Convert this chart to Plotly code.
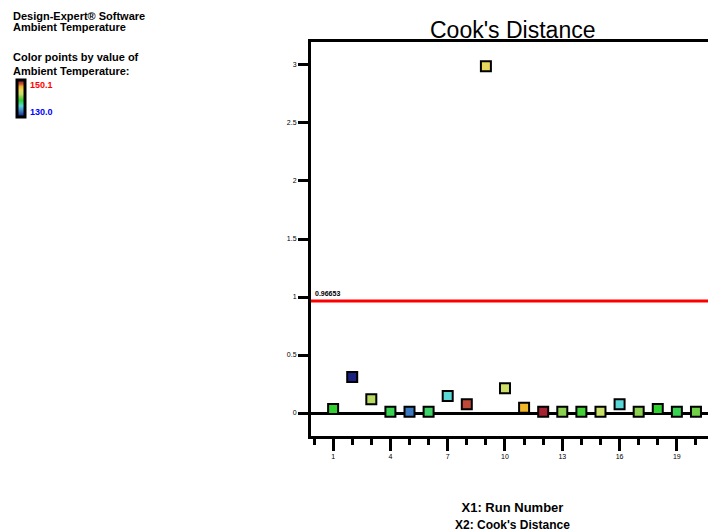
import plotly.graph_objects as go

# ---- data ----
run_number = list(range(1, 21))
cooks_distance = [0.035, 0.31, 0.118, 0.011, 0.011, 0.011, 0.147, 0.075, 2.99, 0.213,
                  0.046, 0.011, 0.011, 0.011, 0.011, 0.075, 0.011, 0.035, 0.011, 0.011]
ambient_temp = [0.45, 0.02, 0.60, 0.42, 0.15, 0.40, 0.30, 0.90, 0.72, 0.64,
                0.82, 0.98, 0.55, 0.47, 0.62, 0.30, 0.55, 0.45, 0.42, 0.52]
threshold = 0.966
threshold_label = "0.96653"
x_ticks = [1, 4, 7, 10, 13, 16, 19]
y_ticks = [0, 0.5, 1, 1.5, 2, 2.5, 3]
y_tick_text = ["0", "0.5", "1", "1.5", "2", "2.5", "3"]

colorscale = [[0, "#141478"], [0.15, "#3a78c0"], [0.3, "#5ad8d8"], [0.45, "#30d030"],
              [0.55, "#8cd050"], [0.62, "#c8e068"], [0.72, "#e8d860"], [0.82, "#f0b828"],
              [0.9, "#c04838"], [1, "#a01830"]]

W, H = 708, 531
L, R, T, B = 311, 0, 42, 95
pw, ph = W - L - R, H - T - B

def px(x):
    return (x - L) / pw

def py(y):
    return (H - B - y) / ph

fig = go.Figure()
fig.add_trace(go.Scatter(
    x=run_number, y=cooks_distance, mode="markers",
    marker=dict(symbol="square", size=10, color=ambient_temp, colorscale=colorscale,
                cmin=0, cmax=1, line=dict(color="black", width=2),
                showscale=True,
                colorbar=dict(x=px(17), xanchor="left", y=py(80), yanchor="top",
                              thickness=8, thicknessmode="pixels",
                              len=37, lenmode="pixels", showticklabels=False,
                              outlinecolor="black", outlinewidth=3, ypad=0, xpad=0)),
    showlegend=False, hoverinfo="x+y"))

fig.add_shape(type="line", xref="paper", x0=0, x1=1, yref="y", y0=threshold, y1=threshold,
              line=dict(color="#ff0000", width=3))

font = "Arial, Liberation Sans, sans-serif"
ann = []
def text(t, x, y, size, color="black", xanchor="left", yanchor="middle"):
    ann.append(dict(text=t, x=px(x), y=py(y), xref="paper", yref="paper",
                    xanchor=xanchor, yanchor=yanchor, showarrow=False, borderpad=0,
                    font=dict(family=font, size=size, color=color)))

text("<b>Design-Expert® Software</b>", 12, 16, 11)
text("<b>Ambient Temperature</b>", 12, 27, 11)
text("<b>Color points by value of</b>", 12, 57, 11)
text("<b>Ambient Temperature:</b>", 12, 71, 11)
text("<b>150.1</b>", 29, 85, 9, color="#ff0000")
text("<b>130.0</b>", 29, 112, 9, color="#0000ff")
text("<b>" + threshold_label + "</b>", 314, 293, 7)
text("Cook's Distance", 512, 30, 23, xanchor="center")
text("<b>X1: Run Number</b><br><b><span style='font-size:12px'>X2: Cook's Distance</span></b>",
     512, 516, 13, xanchor="center")

fig.update_layout(
    width=W, height=H, margin=dict(l=L, r=R, t=T, b=B, pad=0, autoexpand=False),
    paper_bgcolor="white", plot_bgcolor="white",
    font=dict(family=font, size=7, color="black"),
    annotations=ann,
    xaxis=dict(range=[-0.158, 20.63], tickmode="array", tickvals=x_ticks,
               ticks="outside", ticklen=12, tickwidth=3, tickcolor="black",
               showline=True, linecolor="black", linewidth=3, mirror=True,
               showgrid=False, zeroline=False, tickfont=dict(size=7),
               minor=dict(dtick=1, tick0=1, ticks="outside", ticklen=6, tickwidth=3,
                          tickcolor="black", showgrid=False)),
    yaxis=dict(range=[-0.198, 3.198], tickmode="array", tickvals=y_ticks, ticktext=y_tick_text,
               ticks="outside", ticklen=10, tickwidth=3, tickcolor="black",
               showline=True, linecolor="black", linewidth=3,
               showgrid=False, zeroline=True, zerolinecolor="black", zerolinewidth=3,
               tickfont=dict(size=7)),
)

fig.write_html("out.html", config={"displayModeBar": False},
               post_script="document.body.style.margin='0px';document.body.style.overflow='hidden';")
